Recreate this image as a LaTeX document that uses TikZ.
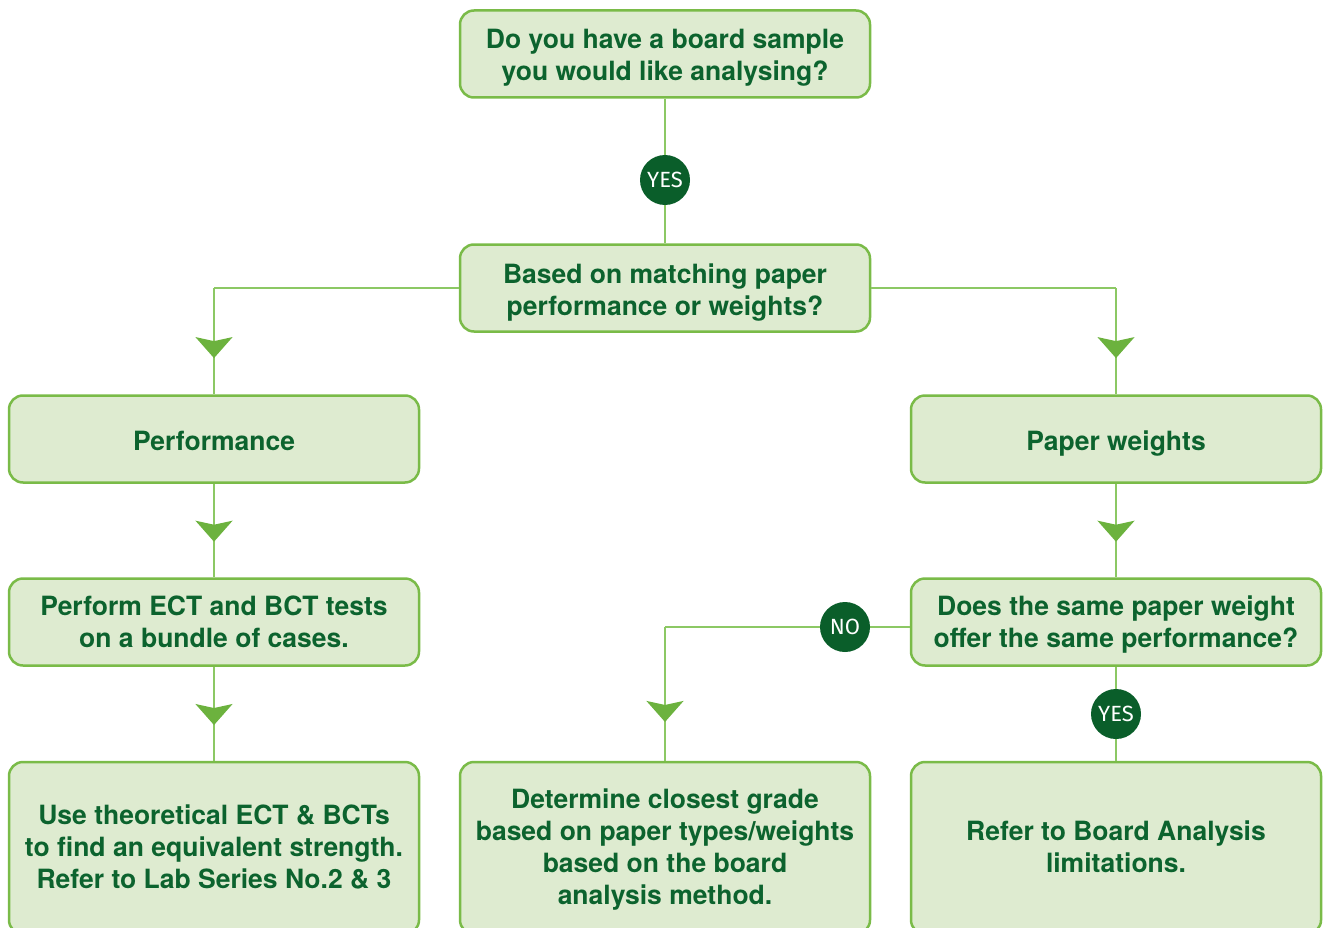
\documentclass[tikz,border=0pt]{standalone}
\usepackage{fontspec}
\setmainfont{TeX Gyre Heros}
\newfontfamily\badgefont{Fira Sans}
\usetikzlibrary{arrows.meta,decorations.markings}
\definecolor{boxfill}{RGB}{222,235,208}
\definecolor{boxline}{RGB}{122,187,72}
\definecolor{linkgreen}{RGB}{140,200,100}
\definecolor{tipgreen}{RGB}{108,178,62}
\definecolor{textgreen}{RGB}{12,99,46}
\definecolor{badgegreen}{RGB}{10,94,42}

\begin{document}
\begin{tikzpicture}[x=1pt, y=-1pt, font=\fontsize{26.5}{32}\selectfont\bfseries,
  stage/.style={draw=boxline, fill=boxfill, line width=2.5pt, rounded corners=14pt, align=center, text=textgreen, minimum width=410, minimum height=87, inner sep=0pt,
    text depth=6pt, text height=#1},
  stage/.default=28.5pt,
  outcome/.style={stage=#1, minimum height=172},
  badge/.style={circle, fill=badgegreen, text=white, minimum size=50, inner sep=0pt, font=\badgefont\fontsize{22}{22}\selectfont},
  link/.style={draw=linkgreen, line width=1.5pt},
  midarrow/.style={link, postaction={decorate}, decoration={markings, mark=at position #1 with {\arrow[tipgreen]{Stealth[length=21pt, width=37pt, inset=4pt]}}}},
  midarrow/.default=0.62,
]
\useasboundingbox (0,0) rectangle (1324,928);

\node[stage=60pt] (sample) at (665, 54) {Do you have a board sample\\you would like analysing?};
\node[stage=60pt] (basis) at (665, 288) {Based on matching paper\\performance or weights?};
\node[stage] (performance) at (214, 439) {Performance};
\node[stage] (weights) at (1116, 439) {Paper weights};
\node[stage=56pt] (tests) at (214, 622) {Perform ECT and BCT tests\\on a bundle of cases.};
\node[stage=56pt] (sameperf) at (1116, 622) {Does the same paper weight\\offer the same performance?};
\node[outcome=87.5pt] (theory) at (214, 848) {Use theoretical ECT \& BCTs\\to find an equivalent strength.\\Refer to Lab Series No.2 \& 3};
\node[outcome=119.5pt] (closest) at (665, 848) {Determine closest grade\\based on paper types/weights\\based on the board\\analysis method.};
\node[outcome=55.5pt] (limits) at (1116, 848) {Refer to Board Analysis\\limitations.};

\coordinate (leftturn) at (214, 288);
\coordinate (rightturn) at (1116, 288);
\coordinate (noturn) at (665, 627);

\draw[link] (sample) -- (basis);
\draw[link] (basis.west) -- (leftturn);
\draw[midarrow=0.66] (leftturn) -- (performance);
\draw[link] (basis.east) -- (rightturn);
\draw[midarrow=0.66] (rightturn) -- (weights);
\draw[midarrow] (performance) -- (tests);
\draw[midarrow] (weights) -- (sameperf);
\draw[midarrow] (tests) -- (theory);
\draw[link] (sameperf.west |- noturn) -- (noturn);
\draw[midarrow=0.71] (noturn) -- (closest);
\draw[link] (sameperf) -- (limits);

\node[badge] (yes1) at (665, 180) {YES};
\node[badge] (no1) at (845, 627) {NO};
\node[badge] (yes2) at (1116, 714) {YES};
\end{tikzpicture}
\end{document}
